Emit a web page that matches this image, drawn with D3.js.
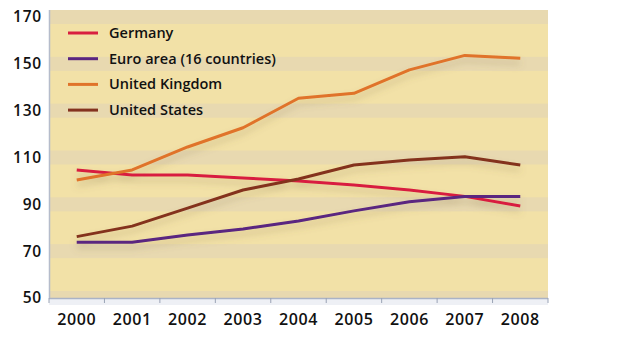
<!DOCTYPE html>
<html>
<head>
<meta charset="utf-8">
<script src="https://cdn.jsdelivr.net/npm/d3@7"></script>
<style>
  body { margin: 0; background: #fff; }
  svg { display: block; font-family: "Open Sans", sans-serif; }
</style>
</head>
<body>
<div id="chart"></div>
<script>
// data
var years = ["2000", "2001", "2002", "2003", "2004", "2005", "2006", "2007", "2008"];
var yTicks = [50, 70, 90, 110, 130, 150, 170];
var seriesNames = ["Germany", "Euro area (16 countries)", "United Kingdom", "United States"];
var germany = [104.7, 102.5, 102.5, 101.2, 100.0, 98.3, 96.1, 93.4, 89.3];
var euroArea = [73.8, 73.8, 76.9, 79.5, 82.9, 87.2, 91.1, 93.3, 93.3];
var unitedKingdom = [100.4, 104.7, 114.5, 122.7, 135.3, 137.4, 147.4, 153.6, 152.4];
var unitedStates = [76.2, 80.7, 88.4, 96.1, 100.8, 106.8, 108.9, 110.3, 106.8];
var colours = ["#d81f40", "#5a2580", "#e0732a", "#84321f"];

var series = [germany, euroArea, unitedKingdom, unitedStates];

var width = 623, height = 344;
var left = 49, right = 548, bottom = 298;

var svg = d3.select("#chart").append("svg")
    .attr("width", width)
    .attr("height", height);

var x = d3.scaleBand().domain(years).range([left, right]).paddingInner(0).paddingOuter(0);
var y = d3.scaleLinear().domain([50, 170]).range([bottom, 17]);
var plotTop = y(170) - 7;

// shadow under the lines
var defs = svg.append("defs");
var shadow = defs.append("filter").attr("id", "shadow")
    .attr("x", "-10%").attr("y", "-30%").attr("width", "120%").attr("height", "160%");
shadow.append("feDropShadow")
    .attr("dx", 0).attr("dy", 5).attr("stdDeviation", 3.5)
    .attr("flood-color", "#7a6a45").attr("flood-opacity", 0.3);

defs.append("clipPath").attr("id", "plotclip")
    .append("rect")
    .attr("x", left).attr("y", plotTop)
    .attr("width", right - left).attr("height", bottom - plotTop);

// plot background with darker stripes round each gridline
svg.append("rect")
    .attr("x", left).attr("y", plotTop)
    .attr("width", right - left).attr("height", bottom - plotTop)
    .attr("fill", "#f2e1a7");

svg.append("g").attr("clip-path", "url(#plotclip)")
    .selectAll("rect")
    .data(yTicks)
    .enter()
    .append("rect")
    .attr("x", left)
    .attr("y", function (d) { return y(d) - 7; })
    .attr("width", right - left)
    .attr("height", 14)
    .attr("fill", "#e8d9b0");

// bottom axis strip
svg.append("rect")
    .attr("x", left).attr("y", bottom)
    .attr("width", right - left).attr("height", 7)
    .attr("fill", "#eef0f5");
svg.append("line")
    .attr("x1", left).attr("x2", right)
    .attr("y1", bottom + 0.5).attr("y2", bottom + 0.5)
    .attr("stroke", "#aab3c6").attr("stroke-width", 1.5);
svg.append("line")
    .attr("x1", left + 0.5).attr("x2", left + 0.5)
    .attr("y1", plotTop).attr("y2", bottom)
    .attr("stroke", "#b5bccb").attr("stroke-width", 1.5);

// ticks on band boundaries
var bounds = years.map(function (d) { return x(d); }).concat([right]);
svg.append("g").selectAll("line")
    .data(bounds)
    .enter()
    .append("line")
    .attr("x1", function (d) { return d; })
    .attr("x2", function (d) { return d; })
    .attr("y1", bottom)
    .attr("y2", bottom + 5)
    .attr("stroke", "#9aa3b5")
    .attr("stroke-width", 1);

// year labels
var xAxis = svg.append("g")
    .attr("transform", "translate(0," + (bottom + 16) + ")")
    .call(d3.axisBottom(x).tickSize(0).tickPadding(0));
xAxis.select(".domain").remove();
xAxis.selectAll("text")
    .attr("font-family", "Open Sans")
    .attr("font-size", "16px")
    .attr("font-weight", 600)
    .attr("letter-spacing", "0.6px")
    .attr("fill", "#111");

// value labels
var yAxis = svg.append("g")
    .attr("transform", "translate(" + (left - 7) + ",0)")
    .call(d3.axisLeft(y).tickValues(yTicks).tickSize(0).tickPadding(0));
yAxis.select(".domain").remove();
yAxis.selectAll("text")
    .attr("font-family", "Open Sans")
    .attr("font-size", "15.5px")
    .attr("font-weight", 600)
    .attr("letter-spacing", "0.8px")
    .attr("fill", "#111");

// the lines
var line = d3.line()
    .x(function (d, i) { return x(years[i]) + x.bandwidth() / 2; })
    .y(function (d) { return y(d); });

svg.append("g").attr("filter", "url(#shadow)")
    .selectAll("path")
    .data(series)
    .enter()
    .append("path")
    .attr("d", line)
    .attr("fill", "none")
    .attr("stroke", function (d, i) { return colours[i]; })
    .attr("stroke-width", 3)
    .attr("stroke-linejoin", "round");

// legend
var legend = svg.append("g").selectAll("g")
    .data(seriesNames)
    .enter()
    .append("g")
    .attr("transform", function (d, i) { return "translate(68," + (33 + i * 25.7) + ")"; });

legend.append("line")
    .attr("x1", 0).attr("x2", 30)
    .attr("stroke", function (d, i) { return colours[i]; })
    .attr("stroke-width", 3);

legend.append("text")
    .attr("x", 41)
    .attr("dy", "0.35em")
    .attr("font-size", "14.5px")
    .attr("font-weight", 600)
    .attr("fill", "#111")
    .text(function (d) { return d; });
</script>
</body>
</html>
